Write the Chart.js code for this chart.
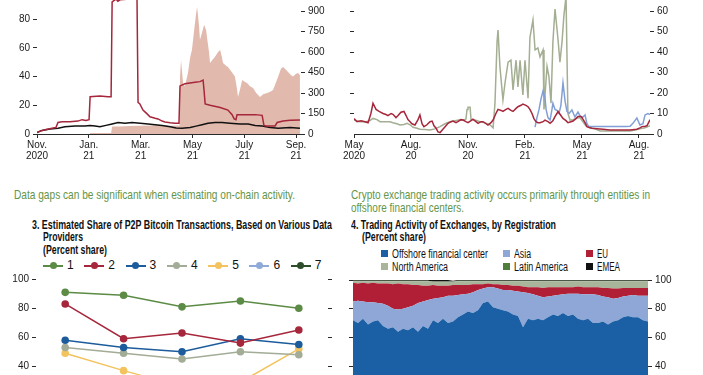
<!DOCTYPE html>
<html>
<head>
<meta charset="utf-8">
<script src="https://cdn.jsdelivr.net/npm/chart.js@4.4.1/dist/chart.umd.min.js"></script>
<style>
  body { margin: 0; width: 703px; height: 375px; overflow: hidden; position: relative; background: #fff;
         font-family: 'Liberation Sans', Arial, sans-serif; color: #111; }
  canvas { position: absolute; }
  .fit { display: inline-block; white-space: nowrap; transform-origin: 0 50%; }
  .cap { position: absolute; color: #64954a; font-size: 13px; line-height: 12.7px; }
  .ttl { position: absolute; font-weight: bold; font-size: 12px; line-height: 12.4px; }
  .ttl div { height: 12.4px; }
  .ind { padding-left: 11px; }
  #leg3 { position: absolute; left: 43px; top: 259px; font-size: 12px; line-height: 13px; white-space: nowrap; }
  #leg3 .li { display: inline-block; width: 41.3px; }
  #leg3 i { display: inline-block; position: relative; width: 20px; height: 1.5px; vertical-align: middle; margin-right: 4px; }
  #leg3 b { position: absolute; left: 6.5px; top: -2.75px; width: 7px; height: 7px; border-radius: 50%; }
  #leg4 { position: absolute; left: 381px; top: 248px; font-size: 12px; line-height: 12.7px; white-space: nowrap;
          display: grid; grid-template-columns: 122px 83px auto; }
  #leg4 i { display: inline-block; width: 7px; height: 7px; margin-right: 4px; vertical-align: 1px; }
</style>
</head>
<body>

<canvas id="tl" width="340" height="190" style="left:0;top:-20px"></canvas>
<canvas id="tr" width="363" height="190" style="left:340px;top:-20px"></canvas>

<div class="cap" style="left:14px;top:189px"><span class="fit" data-w="281">Data gaps can be significant when estimating on-chain activity.</span></div>
<div class="cap" style="left:351px;top:189px">
  <span class="fit" data-w="299">Crypto exchange trading activity occurs primarily through entities in</span><br>
  <span class="fit" data-w="113">offshore financial centers.</span>
</div>

<div class="ttl" style="left:32px;top:219px">
  <div><span class="fit" data-w="300">3. Estimated Share of P2P Bitcoin Transactions, Based on Various Data</span></div>
  <div class="ind"><span class="fit" data-w="40">Providers</span></div>
  <div class="ind"><span class="fit" data-w="64">(Percent share)</span></div>
</div>
<div class="ttl" style="left:351px;top:219px">
  <div><span class="fit" data-w="205">4. Trading Activity of Exchanges, by Registration</span></div>
  <div class="ind"><span class="fit" data-w="64">(Percent share)</span></div>
</div>

<div id="leg3"></div>
<div id="leg4"></div>

<canvas id="bl" width="345" height="175" style="left:0;top:270px"></canvas>
<canvas id="br" width="363" height="175" style="left:340px;top:270px"></canvas>

<script>
// ---- panel top-left: months since Nov. 2020 ----
const tlTickPos = [0, 2, 4, 6, 8, 10];
const tlTickLabels = [['Nov.', '2020'], ['Jan.', '21'], ['Mar.', '21'], ['May', '21'], ['July', '21'], ['Sep.', '21']];
const tlRed = [[0,1],[0.12,2],[0.31,3],[0.58,4],[0.73,4.5],[0.81,8],[0.97,8.5],[1.27,8.5],[1.58,9],[1.74,10],[1.89,9.5],
  [2.01,10],[2.05,26],[2.43,26.5],[2.74,26],[2.86,26],[2.9,92],[3.05,94],[3.12,92.5],[3.2,93.5],[3.59,94],[3.86,94.5],
  [3.9,22],[3.97,21],[4.09,16.7],[4.25,14],[4.36,12],[4.56,11],[4.67,10.5],[4.83,9],[4.94,8.4],[5.14,7.8],[5.33,7.5],
  [5.48,7.5],[5.52,33.5],[5.71,35],[6.1,36],[6.29,36.5],[6.41,37.6],[6.45,30],[6.49,21],[6.68,20],[7.07,18.5],[7.37,16.7],
  [7.53,13.5],[7.61,10.5],[7.68,10],[7.72,13.5],[8.03,13.5],[8.42,13.5],[8.69,13],[8.76,6],[8.84,5.6],[9.19,5.6],
  [9.27,8],[9.5,9],[9.77,9.5],[10.15,9.8]];
const tlBlack = [[0,1],[0.19,2.5],[0.5,3.5],[0.81,4],[1.08,5],[1.47,5.5],[1.85,5.5],[2.05,6],[2.24,5.5],[2.43,5],[2.66,6],
  [2.9,7],[3.13,8],[3.4,7.5],[3.67,8],[3.98,7.5],[4.29,7],[4.56,6.5],[4.83,6],[5.14,5],[5.37,4.2],[5.6,4],[5.91,4.5],
  [6.14,5.5],[6.37,6.5],[6.6,7.5],[6.87,8],[7.14,8],[7.45,7.5],[7.84,7],[8.15,7],[8.42,6],[8.69,5.5],[9.0,4.5],[9.31,4],
  [9.77,4.5],[10.15,4]];
const tlArea = [[2.03,0],[2.05,8],[2.86,8],[2.9,55],[3.2,55],[3.59,58],[3.98,60],[4.36,62],[4.75,65],[5.14,60],[5.44,62],
  [5.5,60],[5.52,420],[5.56,540],[5.64,370],[5.71,350],[5.83,450],[5.91,560],[5.98,615],[6.06,750],[6.14,880],[6.18,930],
  [6.25,800],[6.29,690],[6.37,740],[6.45,800],[6.53,760],[6.56,710],[6.64,600],[6.68,520],[6.76,540],[6.87,565],[6.99,600],
  [7.07,615],[7.14,560],[7.18,520],[7.3,500],[7.37,490],[7.45,470],[7.53,450],[7.64,420],[7.72,330],[7.76,270],[7.84,330],
  [7.92,395],[8.03,380],[8.11,373],[8.22,350],[8.34,337],[8.46,300],[8.61,270],[8.73,290],[8.88,300],[9.0,310],[9.11,322],
  [9.23,380],[9.31,420],[9.42,480],[9.5,490],[9.61,470],[9.69,454],[9.81,430],[9.88,420],[10.0,440],[10.08,446],[10.15,430]];

// ---- panel top-right: months since May 2020 ----
const trTickPos = [0, 3, 6, 9, 12, 15];
const trTickLabels = [['May', '2020'], ['Aug.', '20'], ['Nov.', '20'], ['Feb.', '21'], ['May', '21'], ['Aug.', '21']];
const trRed = [[0,7.5],[0.16,6],[0.37,6.5],[0.58,6],[0.74,5.5],[0.89,10],[1.0,15],[1.16,12],[1.32,11],[1.53,10],[1.68,9.5],
  [1.79,9],[1.95,10],[2.05,9.6],[2.21,8],[2.32,9],[2.47,10.6],[2.63,11],[2.74,9],[2.84,7],[2.95,6],[3.05,5],[3.21,4.4],
  [3.37,7],[3.47,9.3],[3.58,5],[3.68,3.6],[3.84,4.5],[4.0,6],[4.11,6.3],[4.21,4],[4.32,2.8],[4.42,1],[4.53,0.7],[4.68,2.3],
  [4.84,4],[4.95,5.2],[5.11,6],[5.21,6.3],[5.37,5.5],[5.47,6],[5.63,7],[5.74,6.8],[5.89,6],[6.0,5.5],[6.16,6.5],[6.26,7.2],
  [6.42,6],[6.53,5.2],[6.68,6],[6.79,6],[6.95,5],[7.05,4.4],[7.21,5.5],[7.32,6.8],[7.47,10],[7.58,12],[7.74,11.5],[7.84,11],
  [8.0,12],[8.11,12.5],[8.26,11.5],[8.37,11],[8.53,12.5],[8.63,13.3],[8.79,14],[8.89,14.6],[9.05,14],[9.16,13.3],[9.26,12],
  [9.37,10],[9.47,7.5],[9.58,6],[9.68,5.5],[9.79,5.5],[9.95,6],[10.05,6.8],[10.21,6],[10.32,5.2],[10.47,6.5],[10.58,8.5],
  [10.68,10],[10.74,11],[10.89,9],[11.0,7.6],[11.16,6.5],[11.26,5.5],[11.42,6],[11.53,6.3],[11.68,7.5],[11.79,8.5],
  [11.95,8.5],[12.0,8],[12.16,5.5],[12.26,3.6],[12.42,3],[12.53,2.8],[12.79,2.6],[13.11,2.3],[13.47,2],[13.84,2],[14.16,2],
  [14.53,2],[14.89,2.3],[15.05,3],[15.16,3.6],[15.32,3.8],[15.42,4],[15.53,6],[15.58,7]];
const trGreen = [[0,6.8],[0.32,6],[0.63,6],[0.84,6.5],[1.0,7.6],[1.21,7],[1.37,6],[1.63,6],[1.89,6],[2.05,5.5],[2.26,5],
  [2.42,4.4],[2.63,4.6],[2.79,5.2],[2.95,4.5],[3.11,3.3],[3.32,2.8],[3.47,2.3],[3.74,2.2],[4.0,2],[4.26,2.5],[4.53,3.6],
  [4.79,5],[5.05,6],[5.32,6.5],[5.58,7],[5.79,7],[5.89,7.2],[5.95,12],[6.0,13],[6.11,13],[6.16,7],[6.37,6.8],[6.63,6],
  [6.89,5.5],[7.16,4.5],[7.32,3],[7.42,15],[7.53,45],[7.58,50.7],[7.68,33],[7.84,16.6],[7.95,25],[8.11,35],[8.26,36],
  [8.37,21.5],[8.53,36],[8.63,23],[8.74,36],[8.89,19],[9.0,36],[9.16,17.5],[9.26,47],[9.42,55.6],[9.53,41],[9.68,42],
  [9.79,37.6],[9.95,41],[10.0,12],[10.16,33],[10.26,28],[10.37,15],[10.47,45],[10.58,61],[10.74,46],[10.84,35],[10.95,45],
  [11.05,58],[11.16,67],[11.26,10],[11.37,6.8],[11.53,7],[11.68,7.5],[11.89,8],[12.05,6],[12.21,4],[12.42,3],[12.68,2.5],
  [12.95,1.5],[13.47,1.5],[14.0,1.5],[14.53,1.5],[14.79,2],[15.05,2.5],[15.32,3],[15.58,4]];
const trBlue = [[9.53,3.4],[9.63,8],[9.74,12],[9.84,17],[9.95,21],[10.05,18],[10.11,12],[10.21,8],[10.32,6.8],[10.42,12],
  [10.47,15],[10.58,12],[10.68,11.5],[10.79,10],[10.89,14],[11.0,25],[11.11,16],[11.21,11],[11.32,10],[11.47,11.7],
  [11.63,8.3],[11.79,10.7],[11.89,9],[12.0,7.8],[12.16,9.3],[12.26,5],[12.37,3.6],[12.95,3.6],[13.74,3.6],[14.26,3.6],
  [14.53,3.8],[14.68,5.2],[14.89,7.8],[15.05,4.4],[15.21,5],[15.32,9.3],[15.47,10],[15.58,9.5]];

// ---- panel 3 ----
const p2pCategories = ['2017', '2018', '2019', '2020', '2021'];
const p2pNames = ['1', '2', '3', '4', '5', '6', '7'];
const p2pColors = ['#5b8b45', '#a6263b', '#1c5c9c', '#a3ac96', '#f2c35e', '#8faad8', '#2e4d2b'];
const p2p1 = [91, 89, 81, 85, 80];
const p2p2 = [83, 59, 63, 56, 65];
const p2p3 = [58, 53, 50, 59, 55];
const p2p4 = [53, 49, 45, 50, 48];
const p2p5 = [49, 37, 26, 29, 52];
const p2p6 = [18, 15, 14, 16, 20];
const p2p7 = [8, 6, 5, 7, 9];

// ---- panel 4: stacked shares ----
const regNames = ['Offshore financial center', 'Asia', 'EU', 'North America', 'Latin America', 'EMEA'];
const regLabelW = [96, 17, 11, 56, 54, 23];
const regColors = ['#1b5fa5', '#8ea7d6', '#b01f35', '#a9b59b', '#4f7d3c', '#111111'];
const offshore = [72,70,73,69,71,72,68,66,67,64,66,65,67,64,68,66,72,70,73,70,71,74,76,78,77,79,84,85,81,80,
  79,78,76,75,67,73,72,73,72,74,76,75,77,75,76,73,72,73,70,70,71,69,71,72,74,75,74,74,72,71];
const asia = [13,15.5,12,15.5,13.5,12,15.5,16,13,15.5,14,16,15,20,17,20,15,17.5,15,19,18,15.5,14,12.5,14.5,14,10,10,14,14,
  14,15,16.5,17,24.5,18,18,16,16,14.5,13,14.5,13,15.5,14.5,17.5,18,17,20,19.5,17.5,19,16,15.5,14.5,14,15.5,15,17,18];
const eu = [13,12,13,13,13.5,13.5,14,15.5,17,18,17,16,14.5,12.5,11,10,9.5,8.5,8,7,7.5,7,6.5,6,5.5,4,3,2.5,2,3,
  3.5,3.5,3.5,4,4,4,5,6,6.5,6.5,6,5.5,5,4.5,4.5,5,5,5,5,5.5,6,6.5,7,6.5,6,5.5,5,5.5,5.5,5.5];
const northAmerica = [1.2,1.7,1.2,1.7,1.2,1.7,1.7,1.7,2.2,1.7,2.2,2.2,2.7,2.7,3.2,3.2,2.2,2.7,2.7,2.7,2.2,2.7,2.7,2.7,2.2,2.2,2.2,1.7,2.2,2.2,
  2.7,2.7,3.2,3.2,3.7,4.2,4.2,4.2,4.7,4.2,4.2,4.2,4.2,4.2,4.2,3.7,4.2,4.2,4.2,4.2,4.7,4.7,5.2,5.2,4.7,4.7,4.7,4.7,4.7,4.7];
const latinAmerica = [0.2,0.2,0.2,0.2,0.2,0.2,0.2,0.2,0.2,0.2,0.2,0.2,0.2,0.2,0.2,0.2,0.2,0.2,0.2,0.2,0.2,0.2,0.2,0.2,0.2,0.2,0.2,0.2,0.2,0.2,
  0.2,0.2,0.2,0.2,0.2,0.2,0.2,0.2,0.2,0.2,0.2,0.2,0.2,0.2,0.2,0.2,0.2,0.2,0.2,0.2,0.2,0.2,0.2,0.2,0.2,0.2,0.2,0.2,0.2,0.2];
const emea = [0.6,0.6,0.6,0.6,0.6,0.6,0.6,0.6,0.6,0.6,0.6,0.6,0.6,0.6,0.6,0.6,1.1,1.3,1.3,1.1,0.6,0.6,0.6,0.6,0.6,0.6,0.6,0.6,0.6,0.6,
  0.6,0.6,0.6,0.6,0.6,0.6,0.6,0.6,0.6,0.6,0.6,0.6,0.6,0.6,0.6,0.6,0.6,0.6,0.6,0.6,0.6,0.6,0.6,0.6,0.6,0.6,0.6,0.6,0.6,0.6];

const RED = '#a6263b', SALMON = '#e2b9ad', SAGE = '#a3ae92', SKY = '#819fd6', INK = '#2a2a2a';

Chart.defaults.font.family = "'Liberation Sans', Arial, sans-serif";
Chart.defaults.font.size = 10;
Chart.defaults.color = '#1a1a1a';
Chart.defaults.animation = false;

const fixW = w => s => { s.width = w; };
const fixH = h => s => { s.height = h; };
const setTicks = arr => s => { s.ticks = arr.map(v => ({ value: v })); };
const pts = arr => arr.map(([x, y]) => ({ x, y }));

function yAxis(pos, min, max, ticks, width, labels) {
  return {
    position: pos, min, max,
    afterBuildTicks: setTicks(ticks),
    afterFit: fixW(width),
    border: { display: false },
    grid: { drawOnChartArea: false, tickLength: 4, color: INK },
    ticks: { padding: 3, callback: labels ? (v => v) : (() => '') }
  };
}

function xTime(max, pos, labels, h) {
  return {
    type: 'linear', min: 0, max,
    afterBuildTicks: setTicks(pos),
    afterFit: fixH(h),
    border: { display: true, color: INK },
    grid: { drawOnChartArea: false, tickLength: 4, color: INK },
    ticks: { padding: 1, maxRotation: 0, autoSkip: false, font: { lineHeight: 1.15 },
             callback: v => labels[pos.indexOf(v)] }
  };
}

const base = (padTop) => ({
  responsive: false,
  layout: { autoPadding: false, padding: { top: padTop, left: 0, right: 0, bottom: 0 } },
  plugins: { legend: { display: false }, tooltip: { enabled: false } },
  elements: { point: { radius: 0 }, line: { tension: 0 } }
});

const lineDs = (data, color, axis) => ({ data: pts(data), borderColor: color, borderWidth: 1.5, fill: false, yAxisID: axis });

new Chart(document.getElementById('tl'), {
  type: 'line',
  data: { datasets: [
    lineDs(tlRed, RED, 'y'),
    lineDs(tlBlack, '#111', 'y'),
    { data: pts(tlArea), borderWidth: 0, backgroundColor: SALMON, fill: 'origin', yAxisID: 'yR' }
  ] },
  options: Object.assign(base(10.5), { scales: {
    x: xTime(10.19, tlTickPos, tlTickLabels, 36),
    y: yAxis('left', 0, 100, [0, 20, 40, 60, 80, 100], 37, true),
    yR: yAxis('right', 0, 1050, [0, 150, 300, 450, 600, 750, 900, 1050], 39, true)
  } })
});

new Chart(document.getElementById('tr'), {
  type: 'line',
  data: { datasets: [
    lineDs(trRed, RED, 'yR'),
    lineDs(trBlue, SKY, 'yR'),
    lineDs(trGreen, SAGE, 'yR')
  ] },
  options: Object.assign(base(10.5), { scales: {
    x: xTime(15.58, trTickPos, trTickLabels, 36),
    yL: yAxis('left', 0, 70, [10, 20, 30, 40, 50, 60, 70], 14, false),
    yR: yAxis('right', 0, 70, [0, 10, 20, 30, 40, 50, 60, 70], 53, true)
  } })
});

const p2pSeries = [p2p1, p2p2, p2p3, p2p4, p2p5, p2p6, p2p7];
new Chart(document.getElementById('bl'), {
  type: 'line',
  data: { labels: p2pCategories, datasets: p2pSeries.map((d, i) => ({
    data: d, borderColor: p2pColors[i], backgroundColor: p2pColors[i], borderWidth: 1.5,
    pointRadius: 3.8, pointBorderWidth: 0, pointBackgroundColor: p2pColors[i], fill: false, yAxisID: 'y'
  })) },
  options: Object.assign(base(9.3), { scales: {
    x: { offset: true, afterFit: fixH(20.7), border: { display: false }, grid: { display: false } },
    y: yAxis('left', 0, 100, [0, 20, 40, 60, 80, 100], 36, true),
    yR: yAxis('right', 0, 100, [0, 20, 40, 60, 80, 100], 17, false)
  } })
});

const regSeries = [offshore, asia, eu, northAmerica, latinAmerica, emea];
new Chart(document.getElementById('br'), {
  type: 'line',
  data: { labels: offshore.map((_, i) => i), datasets: regSeries.map((d, i) => ({
    data: d, borderWidth: 0, backgroundColor: regColors[i], fill: i === 0 ? 'origin' : '-1', yAxisID: 'y'
  })) },
  options: Object.assign(base(10), { scales: {
    x: { afterFit: fixH(21.5), border: { display: false }, grid: { display: false }, ticks: { display: false } },
    y: Object.assign(yAxis('right', 0, 100, [0, 20, 40, 60, 80, 100], 55, true), { stacked: true }),
    yL: yAxis('left', 0, 100, [0, 20, 40, 60, 80, 100], 13, false)
  } })
});

// legends
const leg3 = document.getElementById('leg3');
p2pNames.forEach((n, i) => {
  const it = document.createElement('span');
  it.className = 'li';
  it.innerHTML = `<i style="background:${p2pColors[i]}"><b style="background:${p2pColors[i]}"></b></i>${n}`;
  leg3.appendChild(it);
});
const leg4 = document.getElementById('leg4');
regNames.forEach((n, i) => {
  const it = document.createElement('span');
  it.innerHTML = `<i style="background:${regColors[i]}"></i><span class="fit" data-w="${regLabelW[i]}">${n}</span>`;
  leg4.appendChild(it);
});

// squeeze text to the condensed widths of the original typeface
document.querySelectorAll('.fit').forEach(el => {
  const w = el.getBoundingClientRect().width;
  el.style.transform = `scaleX(${el.dataset.w / w})`;
});
</script>
</body>
</html>
